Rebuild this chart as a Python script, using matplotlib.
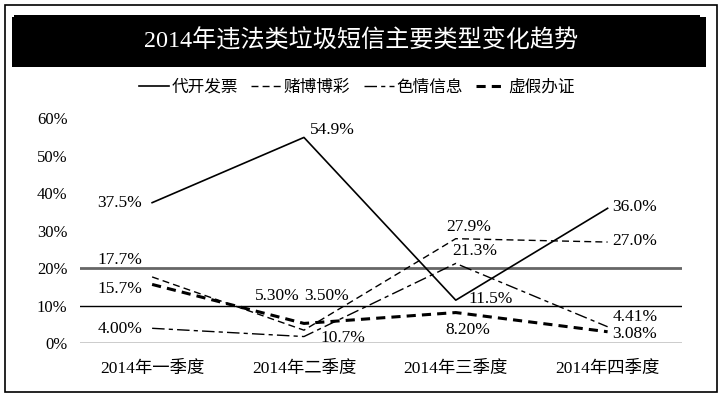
import matplotlib.pyplot as plt
from matplotlib.patches import Rectangle

plt.rcParams['font.family'] = ['Liberation Serif', 'Noto Sans CJK SC', 'DejaVu Sans']

W, H = 721, 398

title = "2014年违法类垃圾短信主要类型变化趋势"
quarters = ["2014年一季度", "2014年二季度", "2014年三季度", "2014年四季度"]
series_names = ["代开发票", "赌博博彩", "色情信息", "虚假办证"]

invoice = [37.5, 54.9, 11.5, 36.0]
gambling = [17.7, 3.5, 27.9, 27.0]
porn = [4.0, 1.8, 21.3, 4.41]
fake_cert = [15.7, 5.3, 8.2, 3.08]

invoice_labels = ["37.5%", "54.9%", "11.5%", "36.0%"]
gambling_labels = ["17.7%", "3.50%", "27.9%", "27.0%"]
porn_labels = ["4.00%", "10.7%", "21.3%", "4.41%"]
fake_cert_labels = ["15.7%", "5.30%", "8.20%", "3.08%"]

yticks = [0, 10, 20, 30, 40, 50, 60]

# line styles and label offsets (pixels, ha)
styles = [
    dict(color="black", lw=1.2, ls="-"),
    dict(color="black", lw=1.0, ls=(0, (5, 3))),
    dict(color="black", lw=1.0, ls=(0, (9, 3, 3, 3))),
    dict(color="black", lw=2.2, ls=(0, (3, 2))),
]
offsets = [
    [(-10, 0, "right"), (6, 7, "left"), (13, 1, "left"), (5, 1, "left")],
    [(-10, 17, "right"), (0, 34, "left"), (13, 12, "center"), (5, 1, "left")],
    [(-10, -1, "right"), (17, -1, "left"), (19, 12, "center"), (5, 10, "left")],
    [(-10, -5, "right"), (-4, 27, "right"), (12, -17, "center"), (5, -2, "left")],
]

fig = plt.figure(figsize=(W / 100, H / 100), dpi=100)

# outer frame
fig.patches.append(Rectangle((5 / W, 1 - 392 / H), 712 / W, 387 / H, transform=fig.transFigure,
                             fill=False, ec="black", lw=1.2))
# title banner
fig.patches.append(Rectangle((12 / W, 1 - 67 / H), 694 / W, 50 / H, transform=fig.transFigure,
                             fc="black", ec="none"))
fig.patches.append(Rectangle((14 / W, 1 - 25 / H), 686 / W, 10 / H, transform=fig.transFigure,
                             fc="black", ec="none"))
fig.text(361 / W, 1 - 41 / H, title, color="white", fontsize=17.4, ha="center", va="center")

ax = fig.add_axes([80 / W, 1 - 343.3 / H, 602 / W, 225 / H])
x = range(len(quarters))
all_vals = [invoice, gambling, porn, fake_cert]
all_labels = [invoice_labels, gambling_labels, porn_labels, fake_cert_labels]

for name, vals, labs, st, offs in zip(series_names, all_vals, all_labels, styles, offsets):
    ax.plot(x, vals, label=name, **st)
    for xi, v, lab, (dx, dy, ha) in zip(x, vals, labs, offs):
        ax.annotate(lab, (xi, v), xytext=(dx, dy), textcoords="offset pixels",
                    ha=ha, va="center", fontsize=12.5)

ax.axhline(0, color="black", lw=1.0, zorder=0)
ax.axhline(10, color="black", lw=1.0, zorder=0)
ax.axhline(20, color="#666666", lw=2.0, zorder=0)

ax.set_xlim(-0.475, 3.49)
ax.set_ylim(0, 60)
ax.set_yticks(yticks)
ax.set_yticklabels([f"{t}%" for t in yticks], fontsize=12)
ax.set_xticks(list(x))
ax.set_xticklabels(quarters, fontsize=12.5)
ax.tick_params(length=0)
ax.tick_params(axis="y", pad=9)
ax.tick_params(axis="x", pad=13)
for s in ax.spines.values():
    s.set_visible(False)

fig.legend(loc="center", bbox_to_anchor=(357 / W, 1 - 88 / H), ncol=4, frameon=False,
           fontsize=12, handlelength=1.8, handletextpad=0.15, columnspacing=0.8)

fig.savefig("out.png", dpi=100)
